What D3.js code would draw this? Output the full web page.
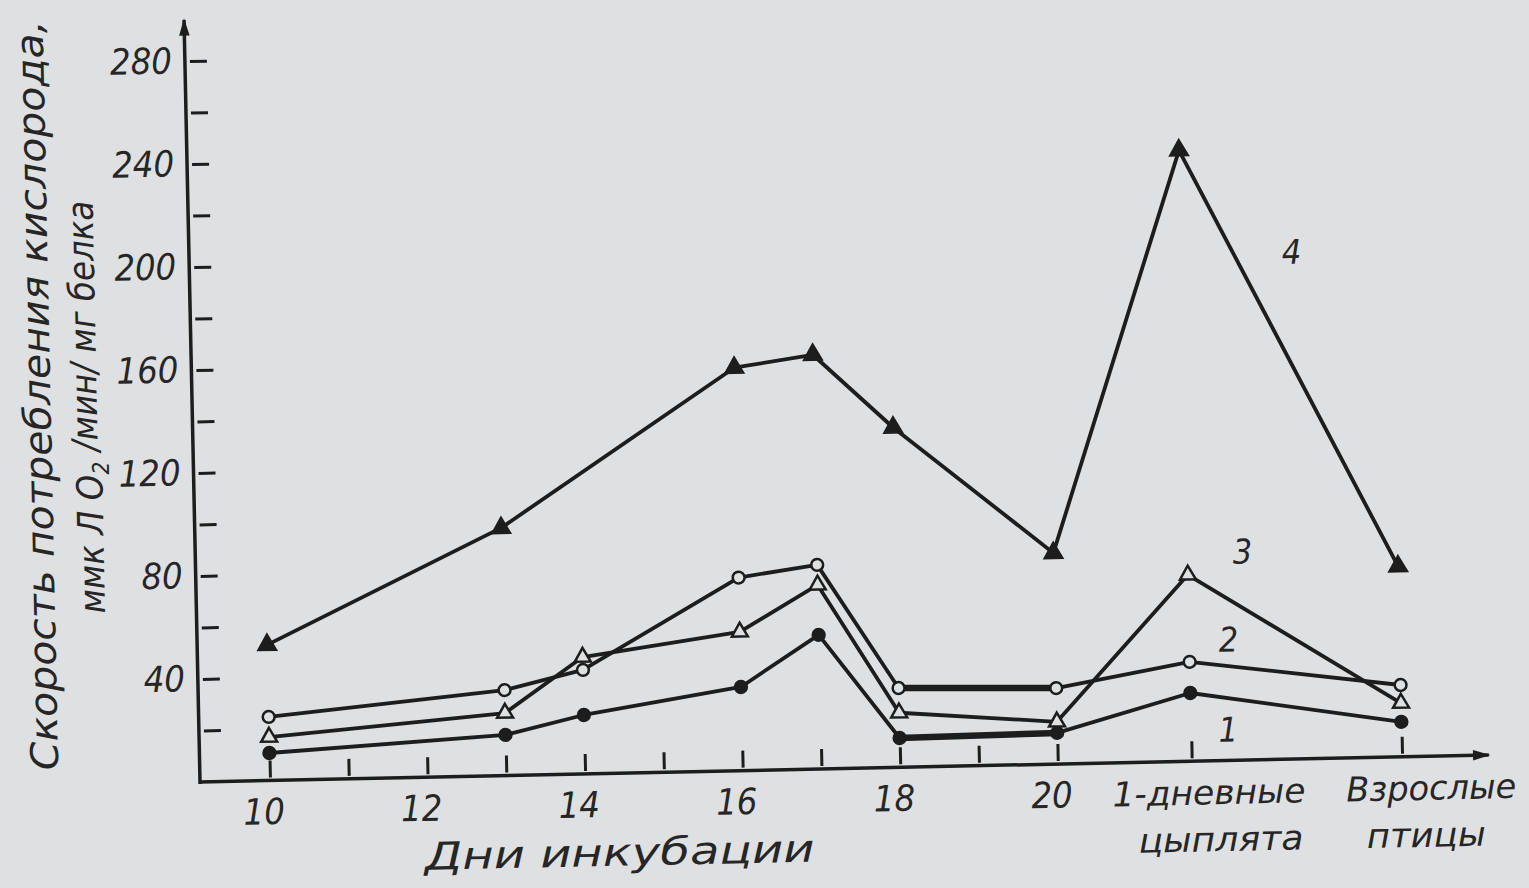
<!DOCTYPE html>
<html>
<head>
<meta charset="utf-8">
<script src="https://cdn.jsdelivr.net/npm/d3@7/dist/d3.min.js"></script>
<style>
  body { margin: 0; background: #dee0e1; }
  text, tspan { font-family: "DejaVu Sans Condensed", "Liberation Sans Narrow", sans-serif; font-style: italic; fill: #262626; }
</style>
</head>
<body>
<div id="chart"></div>
<script>

// categories along the x axis and where they sit on the day scale
var categories = ["10", "13", "14", "16", "17", "18", "20", "1-дневные цыплята", "Взрослые птицы"];
var catPos = [10, 13, 14, 16, 17, 18, 20, 21.7, 24.37];

// oxygen uptake, ммк Л O2 / мин / мг белка
var series1 = [10.7, 15.8, 22.9, 32.5, 52.1, 11.4, 12.1, 26.5, 13.6];
var series2 = [24.7, 33.2, 40.4, 75, 79.3, 30.8, 29.5, 38.6, 27.9];
var series3 = [16.9, 24.3, 45.4, 53.9, 71.5, 21.2, 16.4, 72.4, 20.9];
var series4 = [52.7, 96.2, null, 156.5, 160.9, 132, 82, 237.3, 74];
var seriesNames = ["1", "2", "3", "4"];

// tick labels
var dayTicks = [10, 11, 12, 13, 14, 15, 16, 17, 18, 19, 20];
var dayLabels = [10, 12, 14, 16, 18, 20];
var yTicks = [20, 40, 60, 80, 100, 120, 140, 160, 180, 200, 220, 240, 260, 280];
var yLabels = [40, 80, 120, 160, 200, 240, 280];

var width = 1529, height = 888;
var ink = "#1d1d1d", paper = "#dee0e1";
var fontFam = "DejaVu Sans Condensed, Liberation Sans Narrow, sans-serif";

var svg = d3.select("#chart")
  .append("svg")
  .attr("width", width)
  .attr("height", height);

svg.append("rect").attr("width", width).attr("height", height).attr("fill", paper);

var defs = svg.append("defs");
defs.append("marker")
  .attr("id", "arrow")
  .attr("viewBox", "0 0 10 10")
  .attr("refX", 9).attr("refY", 5)
  .attr("markerWidth", 7).attr("markerHeight", 5)
  .attr("markerUnits", "strokeWidth")
  .attr("orient", "auto")
  .append("path")
  .attr("d", "M0,2 L10,5 L0,8 z")
  .attr("fill", ink);

var x = d3.scaleLinear().domain([10, 20]).range([270, 1058]);
var y = d3.scaleLinear().domain([0, 280]).range([782, 61]);

var x0 = 200; // where the y axis stands

// the scanned page is a little tilted, so the whole figure is turned slightly
var g = svg.append("g")
  .attr("transform", "rotate(-1.2," + x0 + "," + y(0) + ")");

// ---- y axis
var yAxis = g.append("g")
  .attr("transform", "translate(" + x0 + ",0)")
  .call(d3.axisLeft(y)
    .tickValues(yTicks)
    .tickSizeInner(-17)
    .tickSizeOuter(0)
    .tickPadding(13)
    .tickFormat(function (d) { return yLabels.indexOf(d) > -1 ? d : ""; }));
yAxis.select(".domain").remove();
yAxis.selectAll(".tick line")
  .attr("x1", 5).attr("x2", 22)
  .attr("stroke", ink).attr("stroke-width", 3);
yAxis.selectAll(".tick text")
  .attr("fill", "#262626")
  .style("font-size", "36px")
  .style("font-family", fontFam)
  .style("font-style", "italic");

g.append("line")
  .attr("x1", x0).attr("x2", x0)
  .attr("y1", y(0) + 2).attr("y2", y(296))
  .attr("stroke", ink).attr("stroke-width", 3.5)
  .attr("marker-end", "url(#arrow)");

// ---- x axis
var xAxis = g.append("g")
  .attr("transform", "translate(0," + y(0) + ")")
  .call(d3.axisBottom(x)
    .tickValues(dayTicks.concat(catPos.slice(7)))
    .tickSizeInner(-20)
    .tickSizeOuter(0)
    .tickPadding(18)
    .tickFormat(function (d) { return dayLabels.indexOf(d) > -1 ? d : ""; }));
xAxis.select(".domain").remove();
xAxis.selectAll(".tick line")
  .attr("y1", -3)
  .attr("stroke", ink).attr("stroke-width", 3);
xAxis.selectAll(".tick text")
  .attr("fill", "#262626")
  .attr("dx", -7)
  .style("font-size", "36px")
  .style("font-family", fontFam)
  .style("font-style", "italic");

// the two non-day categories get two-line labels
var catShift = [[16, 27], [28, 22]];
var catWidth = [[193, 165], [170, 119]];
xAxis.selectAll(".tick")
  .filter(function (d) { return d > 20; })
  .each(function (d) {
    var i = catPos.indexOf(d) - 7;
    var words = categories[i + 7].split(" ");
    var tick = d3.select(this);
    tick.select("text").remove();
    words.forEach(function (w, k) {
      tick.append("text")
        .attr("x", catShift[i][k])
        .attr("y", 34 + k * 47)
        .attr("text-anchor", "middle")
        .attr("dominant-baseline", "middle")
        .attr("textLength", catWidth[i][k])
        .attr("lengthAdjust", "spacingAndGlyphs")
        .attr("fill", "#262626")
        .style("font-size", "34px")
        .style("font-family", fontFam)
        .style("font-style", "italic")
        .text(w);
    });
  });

g.append("line")
  .attr("x1", x0).attr("x2", x(25.47))
  .attr("y1", y(0)).attr("y2", y(0))
  .attr("stroke", ink).attr("stroke-width", 3.5)
  .attr("marker-end", "url(#arrow)");

// ---- axis titles
g.append("text")
  .attr("x", 618).attr("y", 864)
  .attr("text-anchor", "middle")
  .attr("dominant-baseline", "middle")
  .attr("textLength", 390)
  .attr("lengthAdjust", "spacingAndGlyphs")
  .style("font-size", "38px")
  .text("Дни инкубации");

g.append("text")
  .attr("transform", "translate(48,392) rotate(-90)")
  .attr("text-anchor", "middle")
  .attr("dominant-baseline", "middle")
  .attr("textLength", 750)
  .attr("lengthAdjust", "spacingAndGlyphs")
  .style("font-size", "38px")
  .text("Скорость потребления кислорода,");

var yt2 = g.append("text")
  .attr("transform", "translate(96,405) rotate(-90)")
  .attr("text-anchor", "middle")
  .style("font-size", "36px");
yt2.append("tspan").attr("dy", "0.35em").text("ммк Л О");
yt2.append("tspan").attr("dy", "0.3em").style("font-size", "23px").text("2");
yt2.append("tspan").attr("dy", "-0.3em").text(" /мин/ мг белка");

// ---- series
var allSeries = [series1, series2, series3, series4].map(function (vals, i) {
  return {
    name: seriesNames[i],
    points: vals.map(function (v, j) { return { pos: catPos[j], v: v }; })
      .filter(function (p) { return p.v != null; })
  };
});

var line = d3.line()
  .x(function (d) { return x(d.pos); })
  .y(function (d) { return y(d.v); });

g.selectAll(".series")
  .data(allSeries)
  .enter().append("path")
  .attr("class", "series")
  .attr("d", function (d) { return line(d.points); })
  .attr("fill", "none")
  .attr("stroke", ink)
  .attr("stroke-width", 3.8)
  .attr("stroke-linejoin", "round");

// the 18 -> 20 stretch of curves 1 and 2 was retouched heavier on the print
g.selectAll(".retouch")
  .data(allSeries.slice(0, 2))
  .enter().append("path")
  .attr("class", "retouch")
  .attr("d", function (d) {
    return line(d.points.filter(function (p) { return p.pos >= 18 && p.pos <= 20; }));
  })
  .attr("fill", "none")
  .attr("stroke", ink)
  .attr("stroke-width", 6.5);

// 1 filled circle, 2 open circle, 3 open triangle, 4 filled triangle
var markerStyle = [
  { type: d3.symbolCircle, size: 110, fill: ink },
  { type: d3.symbolCircle, size: 110, fill: paper },
  { type: d3.symbolTriangle, size: 110, fill: paper },
  { type: d3.symbolTriangle, size: 130, fill: ink }
];

allSeries.forEach(function (s, i) {
  var st = markerStyle[i];
  g.selectAll(".m" + i)
    .data(s.points)
    .enter().append("path")
    .attr("class", "m" + i)
    .attr("transform", function (d) { return "translate(" + x(d.pos) + "," + y(d.v) + ")"; })
    .attr("d", d3.symbol().type(st.type).size(st.size))
    .attr("fill", st.fill)
    .attr("stroke", ink)
    .attr("stroke-width", 2.5);
});

// series numbers next to the right-hand peaks
var nameSpots = [[22.17, 11], [22.2, 46], [22.4, 80], [23.1, 196]];
g.selectAll(".sname")
  .data(allSeries)
  .enter().append("text")
  .attr("class", "sname")
  .attr("x", function (d, i) { return x(nameSpots[i][0]); })
  .attr("y", function (d, i) { return y(nameSpots[i][1]); })
  .attr("text-anchor", "middle")
  .attr("dominant-baseline", "middle")
  .style("font-size", "34px")
  .text(function (d) { return d.name; });

</script>
</body>
</html>
